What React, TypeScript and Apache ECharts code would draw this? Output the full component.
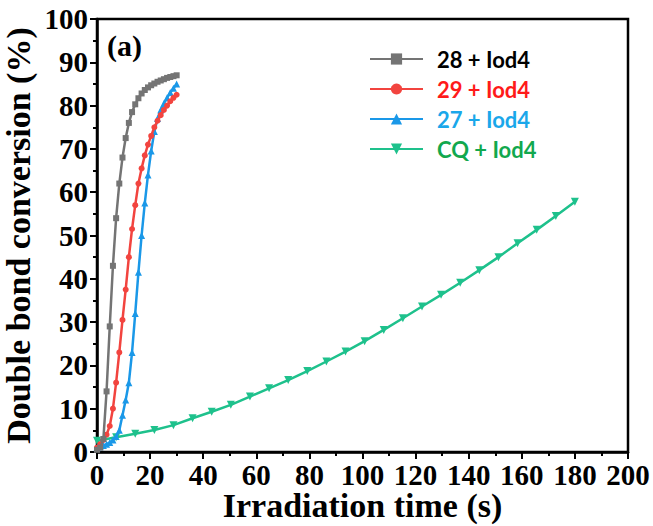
import React, { useEffect, useRef } from "react";
import * as echarts from "echarts";

const tFast = [0, 1.2, 2.4, 3.6, 4.8, 6.0, 7.2, 8.4, 9.6, 10.8, 12.0, 13.2, 14.4, 15.6, 16.8, 18.0, 19.2, 20.4, 21.6, 22.8, 24.0, 25.2, 26.4, 27.6, 28.8, 30.0];
const conv28 = [0.5, 1, 3, 14, 29, 43, 54, 62, 68, 72.5, 76, 78.5, 80.3, 81.7, 82.8, 83.6, 84.2, 84.7, 85.1, 85.5, 85.8, 86.1, 86.4, 86.6, 86.8, 87.0];
const conv29 = [1, 1.8, 2.8, 4, 6, 10, 16, 23, 30.5, 37.5, 45, 51.5, 57, 62, 65.5, 68.5, 71, 73, 75, 76.5, 77.8, 79, 80, 81, 81.8, 82.5];
const conv27 = [1, 1.2, 1.5, 1.8, 2.2, 2.8, 3.6, 5, 8.5, 12, 16, 23, 32, 41.5, 50, 57.5, 64, 69.5, 74, 77, 79, 80.5, 81.8, 83, 84, 85];
const tSlow = [0, 7.2, 14.4, 21.6, 28.8, 36, 43.2, 50.4, 57.6, 64.8, 72, 79.2, 86.4, 93.6, 100.8, 108, 115.2, 122.4, 129.6, 136.8, 144, 151.2, 158.4, 165.6, 172.8, 180];
const convCQ = [2.6, 3.4, 4.2, 5.1, 6.2, 7.8, 9.3, 10.9, 12.8, 14.7, 16.6, 18.7, 20.9, 23.2, 25.6, 28.2, 30.9, 33.6, 36.3, 39.1, 42.0, 45.0, 48.2, 51.3, 54.5, 57.8];

const seriesNames = ["28 + Iod4", "29 + Iod4", "27 + Iod4", "CQ + Iod4"];
const lineColors = ["#747474", "#f2443f", "#1a98e8", "#1ec18c"];
const textColors = ["#000000", "#ff1a1a", "#1aa7ea", "#12a84e"];

const zip = (xs: number[], ys: number[]) => xs.map((x, i) => [x, ys[i]]);

const serif = '"Times New Roman", "Liberation Serif", serif';

export default function App() {
  const ref = useRef<HTMLDivElement>(null);
  useEffect(() => {
    if (!ref.current) return;
    const chart = echarts.init(ref.current, null, { renderer: "svg" });
    const datasets = [zip(tFast, conv28), zip(tFast, conv29), zip(tFast, conv27), zip(tSlow, convCQ)];
    const symbols = ["rect", "circle", "triangle", "triangle"];
    const sizes = [6, 6, 7, 8];
    chart.setOption({
      animation: false,
      backgroundColor: "#ffffff",
      grid: {
        left: 97,
        right: 25,
        top: 19,
        bottom: 74,
        containLabel: false,
        outerBoundsMode: "none",
        show: true,
        borderColor: "#000",
        borderWidth: 2.5,
        backgroundColor: "transparent",
      },
      legend: {
        orient: "vertical",
        left: 364,
        top: 43,
        itemWidth: 53,
        itemHeight: 14,
        itemGap: 8,
        data: seriesNames.map((n, i) => ({
          name: n,
          textStyle: { color: textColors[i] },
        })),
        textStyle: {
          fontFamily: "Lato, 'Open Sans', sans-serif",
          fontWeight: "bold",
          fontSize: 22,
          padding: [0, 0, 0, 9],
        },
      },
      xAxis: {
        type: "value",
        min: 0,
        max: 200,
        interval: 20,
        name: "Irradiation time (s)",
        nameLocation: "middle",
        nameMoveOverlap: false,
        nameGap: 38,
        nameTextStyle: { fontFamily: serif, fontWeight: "bold", fontSize: 34, color: "#000", lineHeight: 30 },
        axisLine: { lineStyle: { color: "#000", width: 2.5 } },
        axisTick: { show: true, length: 7, lineStyle: { color: "#000", width: 2 } },
        minorTick: { show: true, splitNumber: 2, length: 4, lineStyle: { color: "#000", width: 2 } },
        splitLine: { show: false },
        axisLabel: { fontFamily: serif, fontWeight: "bold", fontSize: 29, color: "#000", margin: 8 },
      },
      yAxis: {
        type: "value",
        min: 0,
        max: 100,
        interval: 10,
        name: "Double bond conversion (%)",
        nameLocation: "middle",
        nameMoveOverlap: false,
        nameGap: 62,
        nameTextStyle: { fontFamily: serif, fontWeight: "bold", fontSize: 34, color: "#000", lineHeight: 33 },
        axisLine: { lineStyle: { color: "#000", width: 2.5 } },
        axisTick: { show: true, length: 7, lineStyle: { color: "#000", width: 2 } },
        minorTick: { show: true, splitNumber: 2, length: 4, lineStyle: { color: "#000", width: 2 } },
        splitLine: { show: false },
        axisLabel: { fontFamily: serif, fontWeight: "bold", fontSize: 29, color: "#000", margin: 9 },
      },
      graphic: [
        {
          type: "text",
          left: 107,
          top: 30,
          style: { text: "(a)", font: `bold 30px ${serif}`, fill: "#000" },
        },
      ],
      series: seriesNames.map((n, i) => ({
        name: n,
        type: "line",
        data: datasets[i],
        symbol: symbols[i],
        symbolSize: sizes[i],
        symbolRotate: i === 3 ? 180 : 0,
        showAllSymbol: true,
        lineStyle: { color: lineColors[i], width: 2.5 },
        itemStyle: { color: lineColors[i] },
        z: 2 + (3 - i),
      })),
    });
    return () => chart.dispose();
  }, []);
  return <div ref={ref} style={{ position: "fixed", left: 0, top: 0, width: 653, height: 526 }} />;
}
